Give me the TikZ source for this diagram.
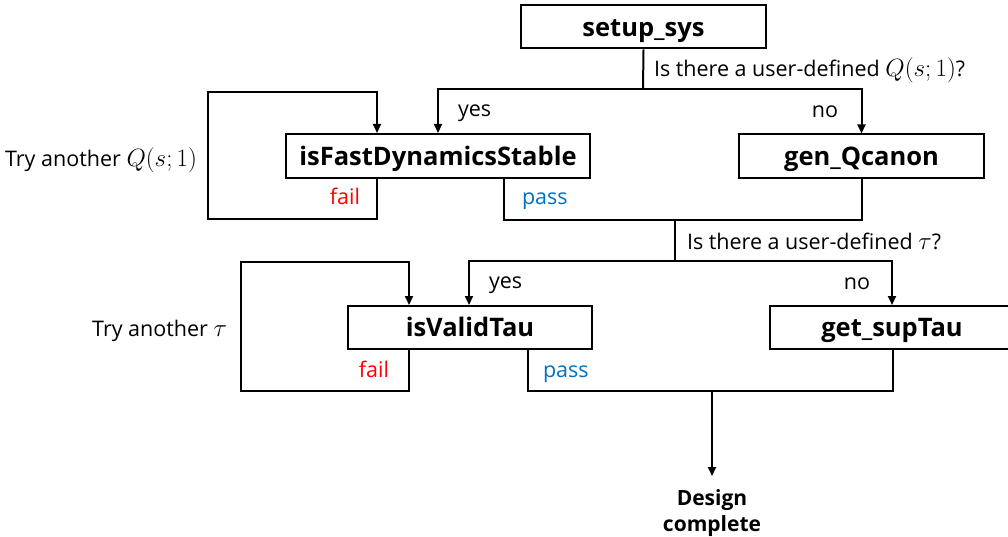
\RequirePackage{fix-cm}
\documentclass[tikz,border=0pt]{standalone}
\usepackage[no-math]{fontspec}
\setmainfont{Open Sans}
\usetikzlibrary{arrows.meta}
\definecolor{failred}{RGB}{255,0,0}
\definecolor{passblue}{RGB}{0,112,192}
\newcommand{\mth}[1]{{\fontsize{25}{25}\selectfont$#1$}}
\begin{document}
\begin{tikzpicture}[x=1pt,y=-1pt,
  line width=2pt,
  func/.style={draw, line width=2pt, inner sep=0pt, minimum height=43pt,
    text height=18.4pt, text depth=0pt,
    font=\fontsize{25.5}{25.5}\selectfont\bfseries},
  lbl/.style={inner sep=0pt, font=\fontsize{21.5}{21.5}\selectfont},
  arr/.style={-{Triangle[length=9pt,width=8pt]}}]
\useasboundingbox (0,0) rectangle (1008,537);
\clip (0,0) rectangle (1008,537);

% function boxes
\node[func, minimum width=245pt] (setup) at (643.5,27) {setup\_sys};
\node[func, minimum width=304pt, minimum height=44pt] (fast) at (438,156) {isFastDynamicsStable};
\node[func, minimum width=245pt, minimum height=44pt] (gen) at (861.5,156.5) {gen\_Qcanon};
\node[func, minimum width=244pt] (valid) at (470,327.5) {isValidTau};
\node[func, minimum width=244pt] (sup) at (892,327.5) {get\_supTau};
\node[inner sep=0pt, align=center, font=\fontsize{21}{26}\selectfont\bfseries,
  anchor=north] (done) at (712,489) {Design\\complete};

% branch and merge points
\coordinate (q1) at (643,89);
\coordinate (f1) at (377,219);
\coordinate (l1) at (208,92);
\coordinate (p1) at (504,220);
\coordinate (m1) at (675,220);
\coordinate (q2) at (675,261);
\coordinate (f2) at (409,391);
\coordinate (l2) at (241,262);
\coordinate (p2) at (528,391);
\coordinate (m2) at (712,391);

% first decision: user-defined Q(s;1)
\draw (setup.south) -- (q1);
\draw[arr] (q1) -| (fast.north);
\draw[arr] (q1) -| (gen.north);
\draw[arr] (fast.south -| f1) -- (f1) -| (l1) -| (fast.north -| f1);
\draw (fast.south -| p1) -- (p1) -| (gen.south);
\draw (m1) -- (q2);

% second decision: user-defined tau
\draw[arr] (q2) -| (valid.north -| 469,0);
\draw[arr] (q2) -| (sup.north);
\draw[arr] (valid.south -| f2) -- (f2) -| (l2) -| (valid.north -| f2);
\draw (valid.south -| p2) -- (p2) -| (sup.south -| 893,0);
\draw[arr, shorten >=13pt] (m2) -- (done.north);

% labels
\node[lbl, anchor=base west] (qq1) at (653,77) {Is there a user-defined \mth{Q(s;1)}?};
\node[lbl, anchor=base west] (yes1) at (457,117) {yes};
\node[lbl, anchor=base east] (no1) at (839,118) {no};
\node[lbl, anchor=base east] (try1) at (198,167) {Try another \mth{Q(s;1)}};
\node[lbl, anchor=base east, text=failred] (fail1) at (361,205) {fail};
\node[lbl, anchor=base west, text=passblue] (pass1) at (521,205) {pass};
\node[lbl, anchor=base west] (qq2) at (686,249) {Is there a user-defined \mth{\tau}?};
\node[lbl, anchor=base west] (yes2) at (488,288) {yes};
\node[lbl, anchor=base east] (no2) at (871,289) {no};
\node[lbl, anchor=base east] (try2) at (228,336) {Try another \mth{\tau}};
\node[lbl, anchor=base east, text=failred] (fail2) at (390,377) {fail};
\node[lbl, anchor=base west, text=passblue] (pass2) at (542,377) {pass};
\end{tikzpicture}
\end{document}
